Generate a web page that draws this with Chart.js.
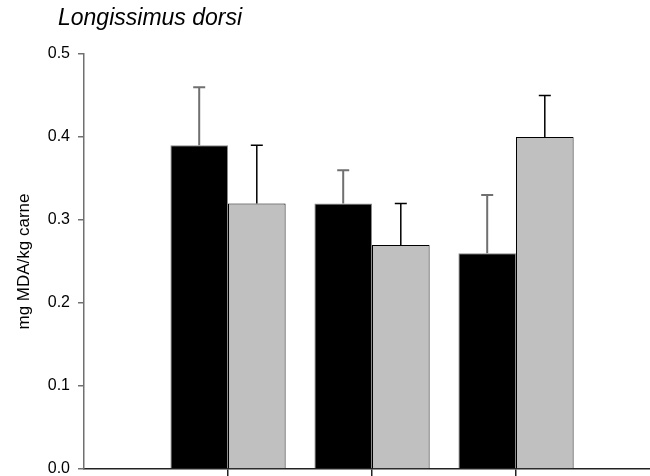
<!DOCTYPE html>
<html>
<head>
<meta charset="utf-8">
<script src="https://cdn.jsdelivr.net/npm/chart.js@4"></script>
<style>
html,body{margin:0;padding:0;background:#fff;overflow:hidden;width:650px;height:476px;}
#wrap{width:650px;height:476px;overflow:hidden;}
canvas{display:block;}
</style>
</head>
<body>
<div id="wrap"><canvas id="c" width="660" height="476"></canvas></div>
<script>
const chartTitle = 'Longissimus dorsi';
const yAxisTitle = 'mg MDA/kg carne';
const categories = ['1', '2', '3'];
const blackValues = [0.39, 0.32, 0.26];
const blackErrors = [0.07, 0.04, 0.07];
const grayValues = [0.32, 0.27, 0.40];
const grayErrors = [0.07, 0.05, 0.05];
const yTickValues = [0.0, 0.1, 0.2, 0.3, 0.4, 0.5];

// empty slots at both ends of the category axis
const labels = [''].concat(categories, ['']);
const pad = arr => [null].concat(arr, [null]);

const errorBarPlugin = {
  id: 'errorBars',
  afterDatasetsDraw(chart) {
    const ctx = chart.ctx;
    const yScale = chart.scales.y;
    chart.data.datasets.forEach((ds, di) => {
      const meta = chart.getDatasetMeta(di);
      meta.data.forEach((bar, i) => {
        const v = ds.data[i];
        const e = ds.errors[i];
        if (v == null || e == null) return;
        const yTop = yScale.getPixelForValue(v + e);
        ctx.save();
        ctx.strokeStyle = ds.errorColor;
        ctx.lineWidth = ds.errorWidth;
        ctx.beginPath();
        ctx.moveTo(bar.x, bar.y);
        ctx.lineTo(bar.x, yTop);
        ctx.moveTo(bar.x - 6, yTop);
        ctx.lineTo(bar.x + 6, yTop);
        ctx.stroke();
        ctx.restore();
      });
    });
  }
};

const titlePlugin = {
  id: 'leftTitle',
  afterDraw(chart) {
    const ctx = chart.ctx;
    ctx.save();
    ctx.font = 'italic 23px "Liberation Sans", Arial, sans-serif';
    ctx.fillStyle = '#000';
    ctx.textBaseline = 'alphabetic';
    ctx.textAlign = 'left';
    ctx.fillText(chartTitle, 58, 25);
    ctx.restore();
  }
};

new Chart(document.getElementById('c'), {
  type: 'bar',
  data: {
    labels: labels,
    datasets: [
      {
        data: pad(blackValues),
        errors: pad(blackErrors),
        backgroundColor: '#000000',
        borderColor: '#8a8a8a',
        borderWidth: 1,
        errorColor: '#707070',
        errorWidth: 2
      },
      {
        data: pad(grayValues),
        errors: pad(grayErrors),
        backgroundColor: '#c0c0c0',
        borderColor: '#000000',
        borderWidth: 1,
        errorColor: '#000000',
        errorWidth: 1.5
      }
    ]
  },
  options: {
    responsive: false,
    animation: false,
    events: [],
    categoryPercentage: 0.8,
    barPercentage: 1.0,
    layout: { padding: { top: 54, left: 0, right: 0, bottom: 0 } },
    plugins: { legend: { display: false }, tooltip: { enabled: false }, title: { display: false } },
    scales: {
      x: {
        type: 'category',
        offset: false,
        grid: {
          offset: false,
          drawOnChartArea: false,
          drawTicks: true,
          tickLength: 7,
          lineWidth: 1.5,
          color: (c) => (c.index === 0 || c.index === labels.length - 1) ? 'rgba(0,0,0,0)' : '#222222'
        },
        border: { color: '#222222', width: 1.5 },
        ticks: { display: false },
        afterFit(scale) { scale.height = 7; scale.paddingLeft = 0; scale.paddingRight = 0; }
      },
      y: {
        min: 0,
        max: 0.5,
        afterBuildTicks(scale) { scale.ticks = yTickValues.map(v => ({ value: v })); },
        ticks: {
          color: '#000',
          padding: 8,
          font: { family: '"Liberation Sans", Arial, sans-serif', size: 16 },
          callback: (v) => Number(v).toFixed(1)
        },
        grid: { drawOnChartArea: false, tickLength: 6, color: '#707070', lineWidth: 1.5 },
        border: { color: '#707070', width: 1.5 },
        title: {
          display: true,
          text: yAxisTitle,
          color: '#000',
          font: { family: '"Liberation Sans", Arial, sans-serif', size: 17 },
          padding: { top: 14, bottom: 0 }
        },
        afterFit(scale) { scale.width = 84; scale.paddingTop = 0; scale.paddingBottom = 0; }
      }
    }
  },
  plugins: [errorBarPlugin, titlePlugin]
});
</script>
</body>
</html>
